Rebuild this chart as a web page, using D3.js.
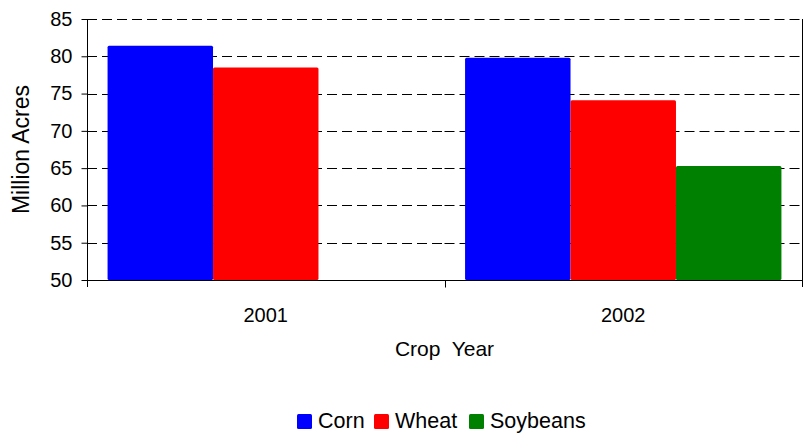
<!DOCTYPE html>
<html>
<head>
<meta charset="utf-8">
<script src="https://cdn.jsdelivr.net/npm/d3@7"></script>
<style>
  body { margin: 0; background: #fff; }
  text { font-family: "Liberation Sans", Arial, sans-serif; fill: #000; }
</style>
</head>
<body>
<svg id="chart" width="811" height="433"></svg>
<script>
// Planted acreage by crop year
const years = ["2001", "2002"];
const crops = ["Corn", "Wheat", "Soybeans"];
const corn = [81.4, 79.8];
const wheat = [78.5, 74.1];
const soybeans = [null, 65.3];
const yTicks = [50, 55, 60, 65, 70, 75, 80, 85];
const colors = ["#0000ff", "#ff0000", "#008000"];

const series = [corn, wheat, soybeans];
const svg = d3.select("#chart");
const margin = { left: 87, right: 9, top: 19, bottom: 153 };
const W = 811, H = 433;
const FONT = "Liberation Sans, Arial, sans-serif";

const x0 = d3.scaleBand().domain(years).range([margin.left, W - margin.right]);
const x1 = d3.scaleBand().domain(crops).range([0, x0.bandwidth()]).paddingOuter(0.195);
const y = d3.scaleLinear().domain([50, 85]).range([H - margin.bottom, margin.top]);

// dashed gridlines, one run per category band
const gridSegs = [];
yTicks.slice(1).forEach(t => years.forEach(yr => gridSegs.push({ t, yr })));
svg.append("g").selectAll("line").data(gridSegs).join("line")
  .attr("x1", d => x0(d.yr)).attr("x2", d => x0(d.yr) + x0.bandwidth())
  .attr("y1", d => Math.round(y(d.t)) + 0.5).attr("y2", d => Math.round(y(d.t)) + 0.5)
  .attr("stroke", "#000").attr("stroke-dasharray", "10,5").attr("stroke-width", 1);

// bars
const rows = [];
years.forEach((yr, i) => crops.forEach((c, j) => {
  if (series[j][i] != null) rows.push({ yr, c, v: series[j][i], color: colors[j] });
}));
svg.append("g").selectAll("rect").data(rows).join("rect")
  .attr("x", d => x0(d.yr) + x1(d.c))
  .attr("width", x1.bandwidth())
  .attr("y", d => y(d.v))
  .attr("height", d => y(50) - y(d.v))
  .attr("fill", d => d.color)
  .attr("rx", 1.5);

// right border
svg.append("line")
  .attr("x1", W - margin.right + 0.5).attr("x2", W - margin.right + 0.5)
  .attr("y1", margin.top).attr("y2", y(50) + 7)
  .attr("stroke", "#000");

// y axis
const yAxis = d3.axisLeft(y).tickValues(yTicks).tickSize(6).tickPadding(9).tickFormat(d3.format("d"));
const gy = svg.append("g").attr("transform", `translate(${margin.left + 0.5},0)`).call(yAxis);
gy.select(".domain").remove();
gy.append("line").attr("x1", 0).attr("x2", 0).attr("y1", margin.top).attr("y2", y(50) + 7).attr("stroke", "#000");
gy.selectAll(".tick line").attr("stroke", "#000");
gy.selectAll(".tick text").style("font-size", "20px").style("font-family", FONT).attr("fill", "#000");

// x axis
const gx = svg.append("g").attr("transform", `translate(0,${Math.round(y(50)) + 0.5})`);
gx.append("line").attr("x1", margin.left).attr("x2", W - margin.right).attr("stroke", "#000");
const bounds = [x0.range()[0] + x0.bandwidth()];
gx.selectAll(".sep").data(bounds).join("line")
  .attr("x1", d => Math.round(d) + 0.5).attr("x2", d => Math.round(d) + 0.5)
  .attr("y1", 0).attr("y2", 7).attr("stroke", "#000");
gx.selectAll(".lab").data(years).join("text")
  .attr("x", d => x0(d) + x0.bandwidth() / 2).attr("y", 41)
  .attr("text-anchor", "middle").style("font-size", "20px").text(d => d);

// axis titles
svg.append("text")
  .attr("x", (margin.left + W - margin.right) / 2).attr("y", 356)
  .attr("text-anchor", "middle").style("font-size", "21px")
  .style("white-space", "pre").text("Crop  Year");
svg.append("text")
  .attr("transform", `translate(29,${(margin.top + y(50)) / 2}) rotate(-90)`)
  .attr("text-anchor", "middle").style("font-size", "23px").text("Million Acres");

// legend
const legendX = [297, 374, 469];
const lg = svg.append("g").selectAll("g").data(crops).join("g")
  .attr("transform", (d, i) => `translate(${legendX[i]},414)`);
lg.append("rect").attr("width", 15).attr("height", 15).attr("rx", 1.5)
  .attr("fill", (d, i) => colors[i]);
lg.append("text").attr("x", 21).attr("y", 14).style("font-size", "21.5px").text(d => d);
</script>
</body>
</html>
